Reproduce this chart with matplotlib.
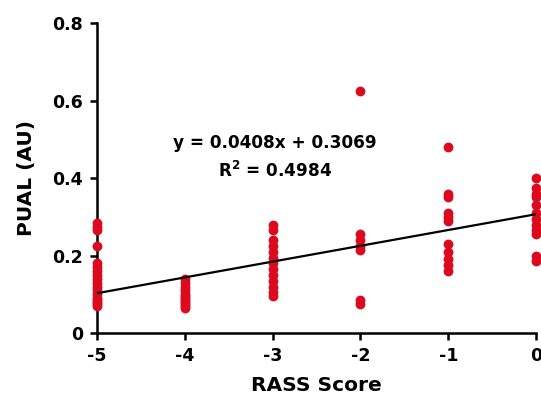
import numpy as np
import matplotlib.pyplot as plt

plt.rcParams['axes.unicode_minus'] = False

# PUAL values, grouped by RASS score
rass_m5 = [0.285, 0.275, 0.265, 0.225, 0.18, 0.17, 0.16, 0.15, 0.14, 0.13,
           0.12, 0.11, 0.10, 0.09, 0.085, 0.08, 0.075, 0.07]
rass_m4 = [0.14, 0.13, 0.12, 0.11, 0.10, 0.095, 0.09, 0.085, 0.08, 0.075,
           0.07, 0.065]
rass_m3 = [0.28, 0.265, 0.24, 0.225, 0.21, 0.195, 0.18, 0.165, 0.15, 0.135,
           0.12, 0.105, 0.095]
rass_m2 = [0.625, 0.255, 0.24, 0.225, 0.215, 0.085, 0.075]
rass_m1 = [0.48, 0.36, 0.35, 0.31, 0.30, 0.29, 0.23, 0.21, 0.19, 0.175, 0.16]
rass_0 = [0.40, 0.375, 0.36, 0.35, 0.33, 0.31, 0.295, 0.28, 0.265, 0.255,
          0.20, 0.185]

groups = {-5: rass_m5, -4: rass_m4, -3: rass_m3, -2: rass_m2, -1: rass_m1, 0: rass_0}

slope = 0.0408
intercept = 0.3069
r2 = 0.4984

x = np.concatenate([[k] * len(v) for k, v in groups.items()])
y = np.concatenate([v for v in groups.values()])

fig = plt.figure(figsize=(5.41, 3.98), dpi=100)
ax = fig.add_axes([0.179, 0.163, 0.812, 0.779])

ax.scatter(x, y, s=50, color='#dc0a1e', zorder=3, clip_on=False, linewidths=0)

xl = np.array([-5, 0])
ax.plot(xl, slope * xl + intercept, color='black', lw=1.6, zorder=4)

ax.text(-2.98, 0.49, f"y = {slope}x + {intercept}", ha='center', va='center',
        fontsize=12.2, fontweight='bold')
ax.text(-2.97, 0.418, f"R$^\\mathbf{{2}}$ = {r2}", ha='center', va='center',
        fontsize=12.2, fontweight='bold')

ax.set_xlim(-5, 0)
ax.set_ylim(0, 0.8)
ax.set_xticks([-5, -4, -3, -2, -1, 0])
ax.set_yticks([0, 0.2, 0.4, 0.6, 0.8])
ax.set_yticklabels(['0', '0.2', '0.4', '0.6', '0.8'])

for s in ['top', 'right']:
    ax.spines[s].set_visible(False)
for s in ['left', 'bottom']:
    ax.spines[s].set_linewidth(1.8)

ax.tick_params(direction='out', length=5, width=1.8, labelsize=12.5, pad=5)
for lab in ax.get_xticklabels() + ax.get_yticklabels():
    lab.set_fontweight('bold')

ax.set_xlabel('RASS Score', fontsize=14.5, fontweight='bold', labelpad=8)
ax.set_ylabel('PUAL (AU)', fontsize=14.5, fontweight='bold', labelpad=12)

fig.savefig('out.png', dpi=100)
